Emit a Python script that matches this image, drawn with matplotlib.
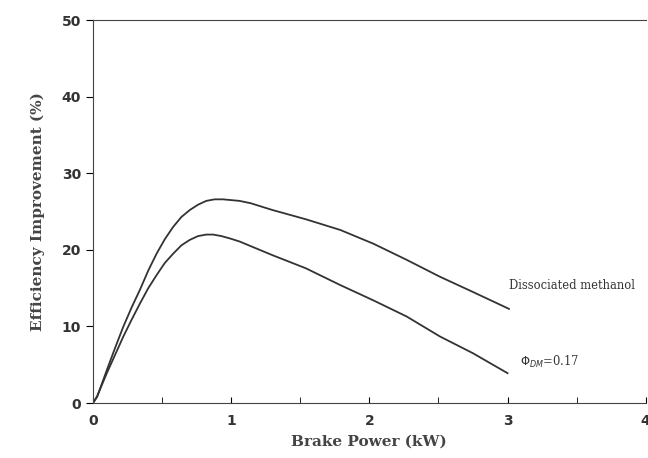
import matplotlib.pyplot as plt
from matplotlib.ticker import MultipleLocator

# values
power_dm = [0.0, 0.03, 0.10, 0.16, 0.22, 0.28, 0.34, 0.40, 0.46, 0.52, 0.58, 0.64, 0.70, 0.76, 0.82,
            0.88, 0.94, 1.00, 1.06, 1.14, 1.30, 1.54, 1.79, 2.03, 2.27, 2.51, 2.75, 3.01]
eff_dm = [0.0, 0.8, 4.3, 7.2, 10.0, 12.5, 14.8, 17.3, 19.5, 21.4, 23.0, 24.3, 25.2, 25.9, 26.4,
          26.6, 26.6, 26.5, 26.4, 26.1, 25.2, 24.0, 22.6, 20.8, 18.7, 16.5, 14.5, 12.3]

power_phi = [0.0, 0.03, 0.10, 0.16, 0.22, 0.28, 0.34, 0.40, 0.46, 0.52, 0.58, 0.64, 0.70, 0.76, 0.82,
             0.87, 0.93, 0.99, 1.06, 1.14, 1.30, 1.54, 1.79, 2.03, 2.27, 2.51, 2.75, 3.00]
eff_phi = [0.0, 0.9, 3.9, 6.3, 8.7, 10.9, 13.0, 15.0, 16.7, 18.3, 19.5, 20.6, 21.3, 21.8, 22.0,
           22.0, 21.8, 21.5, 21.1, 20.5, 19.3, 17.6, 15.4, 13.4, 11.3, 8.7, 6.5, 3.9]

fig = plt.figure(figsize=(6.48, 4.58), dpi=100)
ax = fig.add_axes([0.1435, 0.120, 0.853, 0.836])

ax.plot(power_dm, eff_dm, color='#333333', lw=1.3, solid_joinstyle='round')
ax.plot(power_phi, eff_phi, color='#333333', lw=1.3, solid_joinstyle='round')

ax.text(3.01, 15.4, 'Dissociated methanol', fontsize=8.3, family='DejaVu Serif', color='#333333', va='center')
ax.text(3.09, 5.4, r'$\Phi_{DM}$=0.17', fontsize=8.3, family='DejaVu Serif', color='#333333', va='center')

ax.set_xlim(0, 4)
ax.set_ylim(0, 50)
ax.xaxis.set_major_locator(MultipleLocator(1))
ax.xaxis.set_minor_locator(MultipleLocator(0.5))
ax.yaxis.set_major_locator(MultipleLocator(10))
ax.tick_params(axis='x', which='both', direction='in', length=4, pad=8, labelsize=10)
ax.tick_params(axis='y', direction='out', length=5, labelsize=10)
for lab in ax.get_xticklabels() + ax.get_yticklabels():
    lab.set_fontweight('bold')
    lab.set_color('#333333')

ax.spines['right'].set_visible(False)
for s in ['left', 'bottom', 'top']:
    ax.spines[s].set_color('#444444')
    ax.spines[s].set_linewidth(0.8)

ax.set_xlabel('Brake Power (kW)', family='DejaVu Serif', fontweight='bold', fontsize=11, color='#444444', labelpad=5)
ax.set_ylabel('Efficiency Improvement (%)', family='DejaVu Serif', fontweight='bold', fontsize=11, color='#444444', labelpad=12)

fig.savefig('out.png', dpi=100)
